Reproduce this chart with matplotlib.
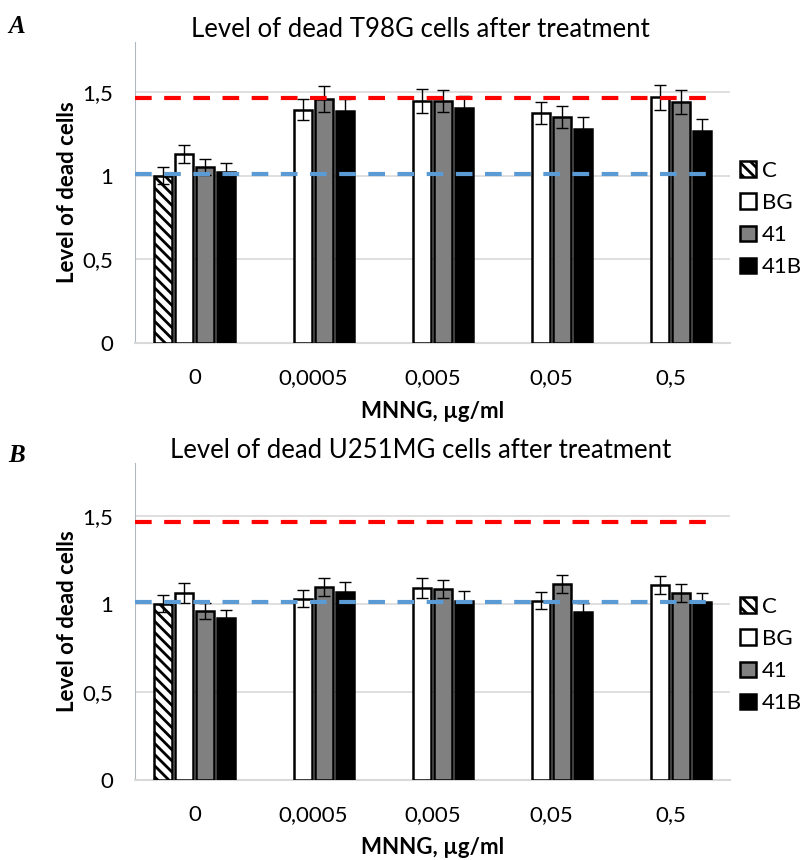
import numpy as np
import matplotlib.pyplot as plt

plt.rcParams['font.family'] = ['Lato', 'DejaVu Sans']
plt.rcParams['hatch.linewidth'] = 2.0

doses = ["0", "0,0005", "0,005", "0,05", "0,5"]
series = ["C", "BG", "41", "41B"]

# T98G (panel A); None = no bar
t98g_vals = {
    "C":   [1.00, None, None, None, None],
    "BG":  [1.13, 1.395, 1.447, 1.375, 1.469],
    "41":  [1.052, 1.459, 1.447, 1.353, 1.441],
    "41B": [1.02, 1.389, 1.403, 1.281, 1.27],
}
t98g_err = {
    "C":   [0.05, 0, 0, 0, 0],
    "BG":  [0.055, 0.064, 0.072, 0.064, 0.076],
    "41":  [0.05, 0.076, 0.068, 0.066, 0.07],
    "41B": [0.055, 0.07, 0.072, 0.07, 0.07],
}

# U251MG (panel B)
u251_vals = {
    "C":   [1.00, None, None, None, None],
    "BG":  [1.061, 1.030, 1.088, 1.019, 1.108],
    "41":  [0.962, 1.094, 1.085, 1.112, 1.061],
    "41B": [0.918, 1.070, 1.019, 0.955, 1.011],
}
u251_err = {
    "C":   [0.048, 0, 0, 0, 0],
    "BG":  [0.055, 0.05, 0.057, 0.05, 0.051],
    "41":  [0.045, 0.051, 0.051, 0.053, 0.053],
    "41B": [0.048, 0.056, 0.057, 0.048, 0.053],
}

red_level = 1.465
blue_level = 1.008

styles = {
    "C":   dict(color="white", edgecolor="black", hatch="\\\\\\"),
    "BG":  dict(color="white", edgecolor="black"),
    "41":  dict(color="#808080", edgecolor="black"),
    "41B": dict(color="black", edgecolor="black"),
}

fig = plt.figure(figsize=(8.11, 8.6), dpi=100)


def draw_panel(ax, vals, errs, title, leg_y):
    x = np.arange(len(doses))
    w = 0.155
    step = 0.175
    handles = []
    for i, s in enumerate(series):
        v = np.array([np.nan if a is None else a for a in vals[s]])
        e = np.array(errs[s], dtype=float)
        e[np.isnan(v)] = np.nan
        pos = x + (i - 1.5) * step
        b = ax.bar(pos, v, w, linewidth=1.8, zorder=3, label=s, **styles[s])
        ax.errorbar(pos, v, yerr=e, fmt='none', ecolor='black',
                    elinewidth=1, capsize=4, capthick=1, zorder=4)
        handles.append(b)
    ax.axhline(red_level, xmin=0, xmax=0.97, color='#ff0000', lw=3,
               dashes=(4, 3), zorder=5)
    ax.axhline(blue_level, xmin=0, xmax=0.97, color='#5b9bd5', lw=3,
               dashes=(4, 3), zorder=5)
    ax.set_xlim(-0.5, len(doses) - 0.5)
    ax.set_ylim(0, 1.8)
    ax.set_yticks([0, 0.5, 1, 1.5])
    ax.set_yticklabels(["0", "0,5", "1", "1,5"])
    ax.set_xticks(x)
    ax.set_xticklabels(doses)
    ax.tick_params(length=0, labelsize=16)
    ax.tick_params(axis='x', pad=18)
    ax.tick_params(axis='y', pad=16)
    ax.grid(axis='y', color='#d9d9d9', lw=1.2, zorder=0)
    for sp in ['top', 'right']:
        ax.spines[sp].set_visible(False)
    ax.spines['left'].set_color('#b0b8c0')
    ax.spines['bottom'].set_color('#d9d9d9')
    ax.spines['bottom'].set_linewidth(1.5)
    ax.set_title(title, fontsize=18.5, pad=0, x=0.48)
    ax.set_ylabel("Level of dead cells", fontsize=16, fontweight='bold', labelpad=3)
    ax.set_xlabel("MNNG, µg/ml", fontsize=16, fontweight='bold', labelpad=9)
    leg = ax.legend(handles=handles, loc='center left',
                    bbox_to_anchor=(740 / 811, 1 - leg_y / 860),
                    bbox_transform=fig.transFigure, borderaxespad=0, borderpad=0,
                    frameon=False, fontsize=16, labelspacing=0.55,
                    handlelength=0.7, handleheight=0.7, handletextpad=0.3)
    return leg


ax1 = fig.add_axes([135 / 811, 1 - 343 / 860, 595 / 811, 301 / 860])
draw_panel(ax1, t98g_vals, t98g_err, "Level of dead T98G cells after treatment", 219)
ax2 = fig.add_axes([135 / 811, 1 - 780 / 860, 595 / 811, 317 / 860])
draw_panel(ax2, u251_vals, u251_err, "Level of dead U251MG cells after treatment", 655)

fig.text(8 / 811, 1 - 33 / 860, "A", fontsize=18, fontweight='bold', style='italic',
         family='Liberation Serif', va='baseline')
fig.text(8 / 811, 1 - 462 / 860, "B", fontsize=18, fontweight='bold', style='italic',
         family='Liberation Serif', va='baseline')

fig.savefig("out.png", dpi=100)
